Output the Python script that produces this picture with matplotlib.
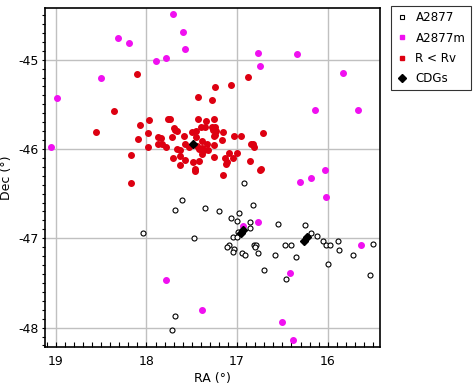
import matplotlib
matplotlib.use("Agg")
import matplotlib.pyplot as plt
from matplotlib.lines import Line2D
from matplotlib.ticker import MultipleLocator

plt.rcParams['font.family'] = ['DejaVu Sans']
plt.rcParams['axes.unicode_minus'] = False

# A2877 members (open black circles)
a2877_ra = [17.61, 17.68, 17.35, 17.20, 17.07, 16.98, 17.00, 16.99, 17.04, 17.00,
            18.04, 17.48, 17.09, 17.11, 17.03, 17.05, 16.95, 16.91, 17.68, 17.72,
            16.92, 16.82, 16.86, 16.86, 16.55, 16.25, 16.19, 16.12, 16.26, 16.05,
            16.02, 15.97, 15.89, 15.88, 15.50, 16.81, 16.79, 16.80, 16.77, 16.47,
            16.41, 16.58, 16.35, 16.70, 16.00, 15.72, 15.53, 16.46]
a2877_dec = [-46.57, -46.68, -46.66, -46.70, -46.77, -46.72, -46.81, -46.93, -46.99, -46.99,
             -46.94, -47.00, -47.08, -47.10, -47.12, -47.15, -47.17, -47.19, -47.87, -48.03,
             -46.38, -46.63, -46.82, -46.89, -46.84, -46.85, -46.94, -46.97, -47.03, -47.03,
             -47.08, -47.07, -47.03, -47.13, -47.06, -47.08, -47.07, -47.10, -47.16, -47.08,
             -47.08, -47.19, -47.21, -47.35, -47.29, -47.19, -47.41, -47.46]

# A2877m (magenta)
a2877m_ra = [17.71, 17.60, 17.58, 18.31, 18.19, 17.89, 17.79, 18.50, 18.99, 19.05,
             16.77, 16.34, 16.75, 15.83, 16.14, 15.67, 16.03, 16.19, 16.31, 16.02,
             16.77, 16.94, 15.63, 16.42, 17.79, 17.39, 16.50, 16.38]
a2877m_dec = [-44.49, -44.69, -44.88, -44.76, -44.81, -45.01, -44.98, -45.20, -45.43, -45.98,
              -44.93, -44.94, -45.07, -45.15, -45.56, -45.56, -46.23, -46.33, -46.37, -46.54,
              -46.82, -46.86, -47.07, -47.39, -47.47, -47.80, -47.94, -48.14]

# R < Rv (red)
rv_ra = [18.10, 18.36, 18.56, 18.17, 18.09, 18.07, 17.97, 17.98, 17.98, 17.87,
         17.84, 17.87, 17.83, 17.78, 17.76, 17.74, 17.72, 17.71, 17.70, 17.68,
         17.66, 17.66, 17.63, 17.63, 17.59, 17.57, 17.57, 17.53, 17.50, 17.49,
         17.47, 17.46, 17.45, 17.45, 17.44, 17.43, 17.43, 17.42, 17.40, 17.39,
         17.39, 17.36, 17.35, 17.34, 17.33, 17.32, 17.28, 17.28, 17.27, 17.26,
         17.26, 17.26, 17.26, 17.24, 17.24, 17.23, 17.24, 17.17, 17.16, 17.16,
         17.13, 17.12, 17.11, 17.09, 17.07, 17.05, 17.03, 17.00, 16.96, 16.88,
         16.71, 16.85, 16.83, 16.81, 16.86, 16.75, 16.74, 18.17, 17.39, 17.63,
         17.42]
rv_dec = [-45.16, -45.58, -45.81, -46.07, -45.89, -45.73, -45.68, -45.82, -45.98, -45.87,
          -45.88, -45.95, -45.94, -45.98, -45.66, -45.66, -45.87, -46.10, -45.77, -45.79,
          -45.80, -46.00, -46.18, -46.08, -45.86, -45.95, -46.12, -45.98, -45.81, -46.15,
          -46.22, -46.25, -45.80, -45.87, -45.97, -45.66, -45.42, -46.14, -45.75, -46.06,
          -45.91, -46.01, -45.75, -45.69, -45.94, -46.01, -45.45, -45.75, -45.79, -45.66,
          -45.86, -45.96, -46.09, -45.31, -45.75, -45.80, -45.84, -45.90, -45.81, -46.29,
          -46.10, -46.17, -46.15, -46.05, -45.28, -46.10, -45.86, -46.05, -45.86, -45.19,
          -45.82, -45.94, -45.95, -45.98, -46.14, -46.23, -46.22, -46.38, -45.99, -46.01,
          -46.00]

# CDGs (black diamonds)
cdg_ra = [17.49, 16.94, 16.96, 16.26, 16.23]
cdg_dec = [-45.94, -46.91, -46.94, -47.03, -46.99]

legend_labels = ["A2877", "A2877m", "R < Rv", "CDGs"]

fig = plt.figure(figsize=(4.75, 3.87), dpi=100)
ax = fig.add_axes([0.0947, 0.1041, 0.7059, 0.8745])

red = '#dd0011'
mag = '#f010f0'

ax.plot(a2877_ra, a2877_dec, linestyle='none', marker='o', ms=3.6,
        mfc='white', mec='black', mew=0.8, zorder=3)
ax.plot(a2877m_ra, a2877m_dec, linestyle='none', marker='o', ms=4.0,
        mfc=mag, mec=mag, zorder=3)
ax.plot(rv_ra, rv_dec, linestyle='none', marker='o', ms=4.0,
        mfc=red, mec=red, zorder=4)
ax.plot(cdg_ra, cdg_dec, linestyle='none', marker='D', ms=4.2,
        mfc='black', mec='black', zorder=5)

ax.set_xlim(19.12, 15.42)
ax.set_ylim(-48.214, -44.425)

ax.xaxis.set_major_locator(MultipleLocator(1))
ax.xaxis.set_minor_locator(MultipleLocator(0.1))
ax.yaxis.set_major_locator(MultipleLocator(1))
ax.yaxis.set_minor_locator(MultipleLocator(0.1))
ax.grid(True, which='major', color='#c0c0c0', linewidth=1.0, zorder=0)
ax.set_axisbelow(True)

ax.tick_params(axis='x', which='both', direction='in', length=3.5, width=0.8,
               labelsize=9, pad=6, top=False)
ax.tick_params(axis='y', which='both', direction='out', length=2.5, width=0.8,
               labelsize=9, pad=2, right=False)
for s in ax.spines.values():
    s.set_linewidth(1.2)
    s.set_color('black')

ax.set_xlabel("RA (°)", fontsize=9, labelpad=3)
ax.set_ylabel("Dec (°)", fontsize=9, labelpad=4)

handles = [
    Line2D([], [], linestyle='none', marker='s', ms=3, mfc='white', mec='black', mew=0.8),
    Line2D([], [], linestyle='none', marker='s', ms=3, mfc=mag, mec=mag),
    Line2D([], [], linestyle='none', marker='s', ms=3, mfc=red, mec=red),
    Line2D([], [], linestyle='none', marker='D', ms=4.5, mfc='black', mec='black'),
]
leg = fig.legend(handles, legend_labels, loc='upper left',
                 bbox_to_anchor=(391/475, 1 - 6/387), fontsize=8.6,
                 frameon=True, fancybox=False, edgecolor='black',
                 handlelength=1.0, handletextpad=0.6, labelspacing=0.6,
                 borderpad=0.45, borderaxespad=0)
leg.get_frame().set_linewidth(0.8)

fig.savefig("out.png", dpi=100)
